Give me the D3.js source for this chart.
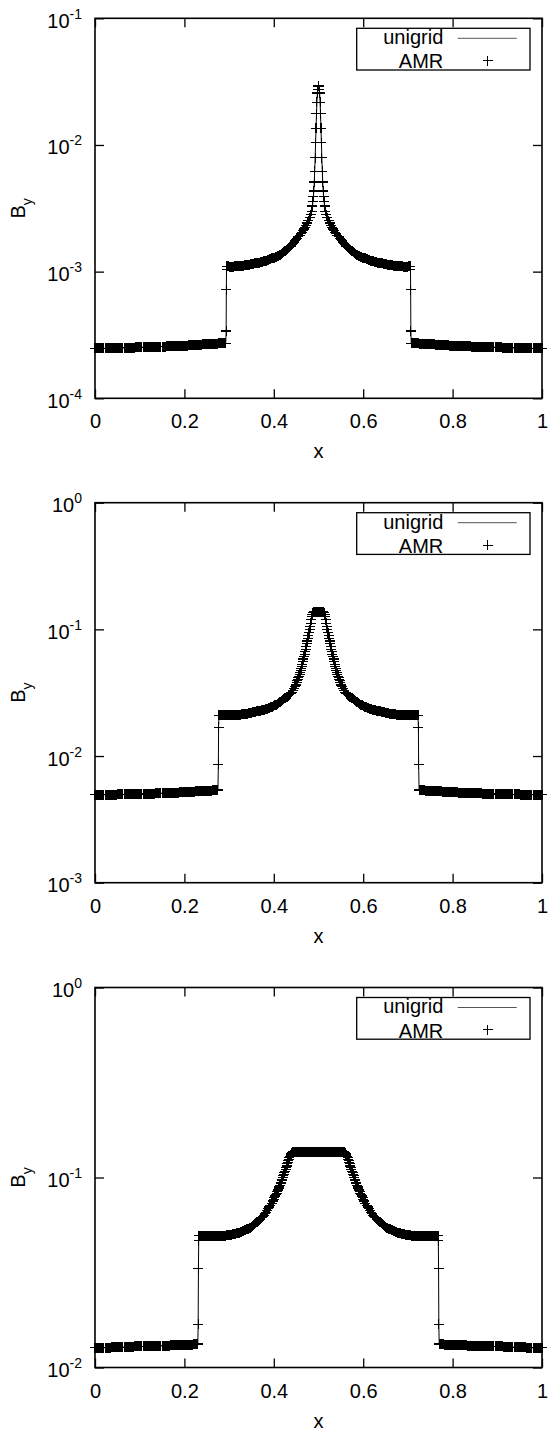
<!DOCTYPE html>
<html>
<head>
<meta charset="utf-8">
<script src="https://cdn.jsdelivr.net/npm/d3@7/dist/d3.min.js"></script>
<style>
  body { margin: 0; background: #fff; }
  text { font-family: "Liberation Sans", Arial, Helvetica, sans-serif; }
</style>
</head>
<body>
<svg id="chart" width="550" height="1434"></svg>
<script>
// ---- B_y; every run is [x0, dx, values] ----

// panel 1: low state left of the left jump (x 0 .. 0.2925)
var p1LowL = [
  2.48e-4, 2.48e-4, 2.48e-4, 2.48e-4, 2.48e-4, 2.48e-4, 2.48e-4, 2.48e-4, 2.48e-4, 2.48e-4,
  2.49e-4, 2.49e-4, 2.49e-4, 2.49e-4, 2.49e-4, 2.49e-4, 2.49e-4, 2.49e-4, 2.49e-4, 2.49e-4,
  2.50e-4, 2.50e-4, 2.50e-4, 2.50e-4, 2.50e-4, 2.50e-4, 2.50e-4, 2.50e-4, 2.51e-4, 2.51e-4,
  2.51e-4, 2.51e-4, 2.51e-4, 2.51e-4, 2.51e-4, 2.51e-4, 2.52e-4, 2.52e-4, 2.52e-4, 2.52e-4,
  2.52e-4, 2.52e-4, 2.53e-4, 2.53e-4, 2.53e-4, 2.53e-4, 2.53e-4, 2.53e-4, 2.54e-4, 2.54e-4,
  2.54e-4, 2.54e-4, 2.54e-4, 2.54e-4, 2.55e-4, 2.55e-4, 2.55e-4, 2.55e-4, 2.55e-4, 2.56e-4,
  2.56e-4, 2.56e-4, 2.56e-4, 2.56e-4, 2.57e-4, 2.57e-4, 2.57e-4, 2.57e-4, 2.58e-4, 2.58e-4,
  2.58e-4, 2.58e-4, 2.59e-4, 2.59e-4, 2.59e-4, 2.59e-4, 2.60e-4, 2.60e-4, 2.60e-4, 2.60e-4,
  2.61e-4, 2.61e-4, 2.61e-4, 2.61e-4, 2.62e-4, 2.62e-4, 2.62e-4, 2.63e-4, 2.63e-4, 2.63e-4,
  2.64e-4, 2.64e-4, 2.64e-4, 2.65e-4, 2.65e-4, 2.65e-4, 2.66e-4, 2.66e-4, 2.66e-4, 2.67e-4,
  2.67e-4, 2.67e-4, 2.68e-4, 2.68e-4, 2.68e-4, 2.69e-4, 2.69e-4, 2.69e-4, 2.70e-4, 2.70e-4,
  2.70e-4, 2.71e-4, 2.71e-4, 2.71e-4, 2.72e-4, 2.72e-4, 2.73e-4, 2.73e-4
];
var p1JumpL = [3.4e-4, 7.2e-4, 1.04e-3];
// panel 1: plateau + rising flank (x 0.295 .. 0.485)
var p1UpL = [
  1.10e-3, 1.10e-3, 1.09e-3, 1.09e-3, 1.09e-3, 1.09e-3, 1.09e-3, 1.10e-3, 1.10e-3, 1.10e-3,
  1.10e-3, 1.10e-3, 1.11e-3, 1.11e-3, 1.11e-3, 1.11e-3, 1.12e-3, 1.12e-3, 1.12e-3, 1.13e-3,
  1.13e-3, 1.14e-3, 1.14e-3, 1.15e-3, 1.15e-3, 1.16e-3, 1.16e-3, 1.17e-3, 1.18e-3, 1.18e-3,
  1.19e-3, 1.19e-3, 1.20e-3, 1.21e-3, 1.21e-3, 1.22e-3, 1.23e-3, 1.24e-3, 1.25e-3, 1.26e-3,
  1.27e-3, 1.27e-3, 1.28e-3, 1.29e-3, 1.31e-3, 1.32e-3, 1.33e-3, 1.35e-3, 1.36e-3, 1.38e-3,
  1.40e-3, 1.42e-3, 1.45e-3, 1.47e-3, 1.50e-3, 1.53e-3, 1.56e-3, 1.59e-3, 1.63e-3, 1.67e-3,
  1.71e-3, 1.75e-3, 1.80e-3, 1.84e-3, 1.89e-3, 1.94e-3, 1.99e-3, 2.05e-3, 2.11e-3, 2.17e-3,
  2.24e-3, 2.33e-3, 2.42e-3, 2.53e-3, 2.66e-3, 2.82e-3, 3.00e-3
];
// panel 1: refined spike around x = 0.5 (x 0.4865 .. 0.5135)
var p1Peak = [
  3.30e-3, 3.55e-3, 3.90e-3, 4.33e-3, 5.10e-3, 6.20e-3, 7.90e-3, 1.04e-2, 1.36e-2, 1.76e-2,
  2.18e-2, 2.57e-2, 2.72e-2, 2.92e-2, 2.92e-2, 2.72e-2, 2.57e-2, 2.18e-2, 1.76e-2, 1.36e-2,
  1.04e-2, 7.90e-3, 6.20e-3, 5.10e-3, 4.33e-3, 3.90e-3, 3.55e-3, 3.30e-3
];
// panel 1: falling flank + plateau (x 0.515 .. 0.705)
var p1UpR = [
  3.00e-3, 2.82e-3, 2.66e-3, 2.53e-3, 2.42e-3, 2.33e-3, 2.24e-3, 2.17e-3, 2.11e-3, 2.05e-3,
  1.99e-3, 1.94e-3, 1.89e-3, 1.84e-3, 1.80e-3, 1.75e-3, 1.71e-3, 1.67e-3, 1.63e-3, 1.59e-3,
  1.56e-3, 1.53e-3, 1.50e-3, 1.47e-3, 1.45e-3, 1.42e-3, 1.40e-3, 1.38e-3, 1.36e-3, 1.35e-3,
  1.33e-3, 1.32e-3, 1.31e-3, 1.29e-3, 1.28e-3, 1.27e-3, 1.27e-3, 1.26e-3, 1.25e-3, 1.24e-3,
  1.23e-3, 1.22e-3, 1.21e-3, 1.21e-3, 1.20e-3, 1.19e-3, 1.19e-3, 1.18e-3, 1.18e-3, 1.17e-3,
  1.16e-3, 1.16e-3, 1.15e-3, 1.15e-3, 1.14e-3, 1.14e-3, 1.13e-3, 1.13e-3, 1.12e-3, 1.12e-3,
  1.12e-3, 1.11e-3, 1.11e-3, 1.11e-3, 1.11e-3, 1.10e-3, 1.10e-3, 1.10e-3, 1.10e-3, 1.10e-3,
  1.09e-3, 1.09e-3, 1.09e-3, 1.09e-3, 1.09e-3, 1.10e-3, 1.10e-3
];
var p1JumpR = [1.04e-3, 7.2e-4, 3.4e-4];
// panel 1: low state right of the right jump (x 0.7075 .. 1)
var p1LowR = [
  2.73e-4, 2.73e-4, 2.72e-4, 2.72e-4, 2.71e-4, 2.71e-4, 2.71e-4, 2.70e-4, 2.70e-4, 2.70e-4,
  2.69e-4, 2.69e-4, 2.69e-4, 2.68e-4, 2.68e-4, 2.68e-4, 2.67e-4, 2.67e-4, 2.67e-4, 2.66e-4,
  2.66e-4, 2.66e-4, 2.65e-4, 2.65e-4, 2.65e-4, 2.64e-4, 2.64e-4, 2.64e-4, 2.63e-4, 2.63e-4,
  2.63e-4, 2.62e-4, 2.62e-4, 2.62e-4, 2.61e-4, 2.61e-4, 2.61e-4, 2.61e-4, 2.60e-4, 2.60e-4,
  2.60e-4, 2.60e-4, 2.59e-4, 2.59e-4, 2.59e-4, 2.59e-4, 2.58e-4, 2.58e-4, 2.58e-4, 2.58e-4,
  2.57e-4, 2.57e-4, 2.57e-4, 2.57e-4, 2.56e-4, 2.56e-4, 2.56e-4, 2.56e-4, 2.56e-4, 2.55e-4,
  2.55e-4, 2.55e-4, 2.55e-4, 2.55e-4, 2.54e-4, 2.54e-4, 2.54e-4, 2.54e-4, 2.54e-4, 2.54e-4,
  2.53e-4, 2.53e-4, 2.53e-4, 2.53e-4, 2.53e-4, 2.53e-4, 2.52e-4, 2.52e-4, 2.52e-4, 2.52e-4,
  2.52e-4, 2.52e-4, 2.51e-4, 2.51e-4, 2.51e-4, 2.51e-4, 2.51e-4, 2.51e-4, 2.51e-4, 2.51e-4,
  2.50e-4, 2.50e-4, 2.50e-4, 2.50e-4, 2.50e-4, 2.50e-4, 2.50e-4, 2.50e-4, 2.49e-4, 2.49e-4,
  2.49e-4, 2.49e-4, 2.49e-4, 2.49e-4, 2.49e-4, 2.49e-4, 2.49e-4, 2.49e-4, 2.48e-4, 2.48e-4,
  2.48e-4, 2.48e-4, 2.48e-4, 2.48e-4, 2.48e-4, 2.48e-4, 2.48e-4, 2.48e-4
];

// panel 2
var p2LowL = [
  4.95e-3, 4.95e-3, 4.95e-3, 4.95e-3, 4.95e-3, 4.95e-3, 4.95e-3, 4.95e-3, 4.95e-3, 4.95e-3,
  4.96e-3, 4.96e-3, 4.96e-3, 4.96e-3, 4.96e-3, 4.96e-3, 4.96e-3, 4.96e-3, 4.96e-3, 4.96e-3,
  4.98e-3, 4.98e-3, 4.98e-3, 4.98e-3, 4.98e-3, 4.98e-3, 4.98e-3, 4.98e-3, 4.99e-3, 4.99e-3,
  4.99e-3, 4.99e-3, 4.99e-3, 4.99e-3, 4.99e-3, 4.99e-3, 5.01e-3, 5.01e-3, 5.01e-3, 5.01e-3,
  5.01e-3, 5.01e-3, 5.03e-3, 5.03e-3, 5.03e-3, 5.03e-3, 5.03e-3, 5.03e-3, 5.05e-3, 5.05e-3,
  5.05e-3, 5.05e-3, 5.05e-3, 5.05e-3, 5.07e-3, 5.07e-3, 5.07e-3, 5.07e-3, 5.07e-3, 5.09e-3,
  5.09e-3, 5.09e-3, 5.09e-3, 5.09e-3, 5.11e-3, 5.11e-3, 5.11e-3, 5.11e-3, 5.13e-3, 5.13e-3,
  5.13e-3, 5.13e-3, 5.15e-3, 5.15e-3, 5.15e-3, 5.15e-3, 5.17e-3, 5.17e-3, 5.17e-3, 5.17e-3,
  5.19e-3, 5.19e-3, 5.19e-3, 5.19e-3, 5.21e-3, 5.21e-3, 5.21e-3, 5.23e-3, 5.23e-3, 5.23e-3,
  5.25e-3, 5.25e-3, 5.25e-3, 5.27e-3, 5.27e-3, 5.27e-3, 5.29e-3, 5.29e-3, 5.29e-3, 5.31e-3,
  5.31e-3, 5.31e-3, 5.33e-3, 5.33e-3, 5.33e-3, 5.36e-3, 5.36e-3, 5.36e-3, 5.39e-3, 5.39e-3,
  5.39e-3
];
var p2JumpL = [8.6e-3, 1.69e-2];
var p2UpL = [
  2.10e-2, 2.10e-2, 2.10e-2, 2.09e-2, 2.09e-2, 2.09e-2, 2.09e-2, 2.09e-2, 2.09e-2, 2.09e-2,
  2.09e-2, 2.10e-2, 2.10e-2, 2.10e-2, 2.10e-2, 2.11e-2, 2.11e-2, 2.11e-2, 2.12e-2, 2.12e-2,
  2.13e-2, 2.13e-2, 2.14e-2, 2.14e-2, 2.15e-2, 2.16e-2, 2.17e-2, 2.18e-2, 2.19e-2, 2.20e-2,
  2.21e-2, 2.22e-2, 2.23e-2, 2.24e-2, 2.25e-2, 2.26e-2, 2.27e-2, 2.28e-2, 2.29e-2, 2.30e-2,
  2.31e-2, 2.32e-2, 2.34e-2, 2.36e-2, 2.38e-2, 2.40e-2, 2.42e-2, 2.44e-2, 2.46e-2, 2.48e-2,
  2.51e-2, 2.54e-2, 2.58e-2, 2.62e-2, 2.65e-2, 2.69e-2, 2.73e-2, 2.77e-2, 2.82e-2, 2.86e-2,
  2.90e-2, 2.95e-2, 3.00e-2, 3.05e-2, 3.11e-2, 3.18e-2, 3.28e-2, 3.40e-2, 3.54e-2
];
// panel 2: refined hump with its flat top (x 0.44875 .. 0.55125)
var p2Mid = [
  3.61e-2, 3.70e-2, 3.80e-2, 3.92e-2, 4.03e-2, 4.15e-2, 4.28e-2, 4.42e-2, 4.56e-2, 4.70e-2,
  4.87e-2, 5.07e-2, 5.32e-2, 5.60e-2, 5.84e-2, 6.10e-2, 6.37e-2, 6.65e-2, 6.96e-2, 7.30e-2,
  7.70e-2, 8.10e-2, 8.50e-2, 8.90e-2, 9.38e-2, 9.90e-2, 0.105, 0.112, 0.119, 0.126,
  0.131, 0.135, 0.136, 0.137, 0.137, 0.137, 0.137, 0.138, 0.138, 0.138,
  0.138, 0.138,
  0.138, 0.138, 0.138, 0.138, 0.137, 0.137, 0.137, 0.137, 0.136, 0.135,
  0.131, 0.126, 0.119, 0.112, 0.105, 9.90e-2, 9.38e-2, 8.90e-2, 8.50e-2, 8.10e-2,
  7.70e-2, 7.30e-2, 6.96e-2, 6.65e-2, 6.37e-2, 6.10e-2, 5.84e-2, 5.60e-2, 5.32e-2, 5.07e-2,
  4.87e-2, 4.70e-2, 4.56e-2, 4.42e-2, 4.28e-2, 4.15e-2, 4.03e-2, 3.92e-2, 3.80e-2, 3.70e-2,
  3.61e-2
];
var p2UpR = [
  3.54e-2, 3.40e-2, 3.28e-2, 3.18e-2, 3.11e-2, 3.05e-2, 3.00e-2, 2.95e-2, 2.90e-2, 2.86e-2,
  2.82e-2, 2.77e-2, 2.73e-2, 2.69e-2, 2.65e-2, 2.62e-2, 2.58e-2, 2.54e-2, 2.51e-2, 2.48e-2,
  2.46e-2, 2.44e-2, 2.42e-2, 2.40e-2, 2.38e-2, 2.36e-2, 2.34e-2, 2.32e-2, 2.31e-2, 2.30e-2,
  2.29e-2, 2.28e-2, 2.27e-2, 2.26e-2, 2.25e-2, 2.24e-2, 2.23e-2, 2.22e-2, 2.21e-2, 2.20e-2,
  2.19e-2, 2.18e-2, 2.17e-2, 2.16e-2, 2.15e-2, 2.14e-2, 2.14e-2, 2.13e-2, 2.13e-2, 2.12e-2,
  2.12e-2, 2.11e-2, 2.11e-2, 2.11e-2, 2.10e-2, 2.10e-2, 2.10e-2, 2.10e-2, 2.09e-2, 2.09e-2,
  2.09e-2, 2.09e-2, 2.09e-2, 2.09e-2, 2.09e-2, 2.09e-2, 2.10e-2, 2.10e-2, 2.10e-2
];
var p2JumpR = [1.69e-2, 8.6e-3];
var p2LowR = [
  5.39e-3, 5.39e-3, 5.39e-3, 5.36e-3, 5.36e-3, 5.36e-3, 5.33e-3, 5.33e-3, 5.33e-3, 5.31e-3,
  5.31e-3, 5.31e-3, 5.29e-3, 5.29e-3, 5.29e-3, 5.27e-3, 5.27e-3, 5.27e-3, 5.25e-3, 5.25e-3,
  5.25e-3, 5.23e-3, 5.23e-3, 5.23e-3, 5.21e-3, 5.21e-3, 5.21e-3, 5.19e-3, 5.19e-3, 5.19e-3,
  5.19e-3, 5.17e-3, 5.17e-3, 5.17e-3, 5.17e-3, 5.15e-3, 5.15e-3, 5.15e-3, 5.15e-3, 5.13e-3,
  5.13e-3, 5.13e-3, 5.13e-3, 5.11e-3, 5.11e-3, 5.11e-3, 5.11e-3, 5.09e-3, 5.09e-3, 5.09e-3,
  5.09e-3, 5.09e-3, 5.07e-3, 5.07e-3, 5.07e-3, 5.07e-3, 5.07e-3, 5.05e-3, 5.05e-3, 5.05e-3,
  5.05e-3, 5.05e-3, 5.05e-3, 5.03e-3, 5.03e-3, 5.03e-3, 5.03e-3, 5.03e-3, 5.03e-3, 5.01e-3,
  5.01e-3, 5.01e-3, 5.01e-3, 5.01e-3, 5.01e-3, 4.99e-3, 4.99e-3, 4.99e-3, 4.99e-3, 4.99e-3,
  4.99e-3, 4.99e-3, 4.99e-3, 4.98e-3, 4.98e-3, 4.98e-3, 4.98e-3, 4.98e-3, 4.98e-3, 4.98e-3,
  4.98e-3, 4.96e-3, 4.96e-3, 4.96e-3, 4.96e-3, 4.96e-3, 4.96e-3, 4.96e-3, 4.96e-3, 4.96e-3,
  4.96e-3, 4.95e-3, 4.95e-3, 4.95e-3, 4.95e-3, 4.95e-3, 4.95e-3, 4.95e-3, 4.95e-3, 4.95e-3,
  4.95e-3
];

// panel 3
var p3LowL = [
  1.27e-2, 1.27e-2, 1.27e-2, 1.27e-2, 1.27e-2, 1.27e-2, 1.27e-2, 1.27e-2, 1.27e-2, 1.27e-2,
  1.27e-2, 1.27e-2, 1.27e-2, 1.27e-2, 1.27e-2, 1.28e-2, 1.28e-2, 1.28e-2, 1.28e-2, 1.28e-2,
  1.28e-2, 1.28e-2, 1.28e-2, 1.28e-2, 1.28e-2, 1.28e-2, 1.28e-2, 1.28e-2, 1.28e-2, 1.28e-2,
  1.28e-2, 1.28e-2, 1.28e-2, 1.28e-2, 1.28e-2, 1.29e-2, 1.29e-2, 1.29e-2, 1.29e-2, 1.29e-2,
  1.29e-2, 1.29e-2, 1.29e-2, 1.29e-2, 1.29e-2, 1.29e-2, 1.29e-2, 1.29e-2, 1.29e-2, 1.29e-2,
  1.29e-2, 1.29e-2, 1.29e-2, 1.30e-2, 1.30e-2, 1.30e-2, 1.30e-2, 1.30e-2, 1.30e-2, 1.30e-2,
  1.30e-2, 1.30e-2, 1.30e-2, 1.30e-2, 1.30e-2, 1.30e-2, 1.30e-2, 1.30e-2, 1.31e-2, 1.31e-2,
  1.31e-2, 1.31e-2, 1.31e-2, 1.31e-2, 1.31e-2, 1.31e-2, 1.31e-2, 1.31e-2, 1.31e-2, 1.32e-2,
  1.32e-2, 1.32e-2, 1.32e-2, 1.32e-2, 1.32e-2, 1.32e-2, 1.32e-2, 1.32e-2, 1.33e-2, 1.33e-2,
  1.33e-2, 1.33e-2, 1.33e-2
];
var p3JumpL = [1.69e-2, 3.33e-2, 4.65e-2];
var p3UpL = [
  4.95e-2, 4.94e-2, 4.93e-2, 4.93e-2, 4.92e-2, 4.92e-2, 4.91e-2, 4.91e-2, 4.91e-2, 4.90e-2,
  4.90e-2, 4.90e-2, 4.90e-2, 4.90e-2, 4.90e-2, 4.90e-2, 4.90e-2, 4.91e-2, 4.91e-2, 4.91e-2,
  4.92e-2, 4.92e-2, 4.93e-2, 4.94e-2, 4.95e-2, 4.96e-2, 4.97e-2, 4.98e-2, 4.99e-2, 5.00e-2,
  5.02e-2, 5.03e-2, 5.05e-2, 5.07e-2, 5.09e-2, 5.11e-2, 5.13e-2, 5.16e-2, 5.18e-2, 5.21e-2,
  5.24e-2, 5.27e-2, 5.30e-2, 5.33e-2, 5.37e-2, 5.41e-2, 5.45e-2, 5.50e-2, 5.55e-2, 5.60e-2,
  5.66e-2, 5.73e-2, 5.80e-2, 5.87e-2, 5.95e-2, 6.04e-2, 6.13e-2, 6.23e-2, 6.34e-2, 6.45e-2,
  6.57e-2, 6.70e-2, 6.84e-2, 6.99e-2, 7.15e-2, 7.32e-2, 7.50e-2
];
var p3FlankL = [
  7.60e-2, 7.70e-2, 7.81e-2, 7.92e-2, 8.03e-2, 8.15e-2, 8.27e-2, 8.40e-2, 8.53e-2, 8.66e-2,
  8.80e-2, 8.95e-2, 9.10e-2, 9.26e-2, 9.43e-2, 9.61e-2, 9.80e-2, 0.100, 0.102, 0.104,
  0.106, 0.108, 0.110, 0.113, 0.115, 0.118, 0.120, 0.123, 0.125, 0.127,
  0.129, 0.131, 0.133, 0.134, 0.135, 0.136, 0.137
];
var p3Top = [
  0.137, 0.137, 0.137, 0.137, 0.137, 0.137, 0.137, 0.137, 0.137, 0.137,
  0.137, 0.137, 0.137, 0.137, 0.137, 0.137, 0.137, 0.137, 0.137, 0.137,
  0.137, 0.137, 0.137, 0.137, 0.137, 0.137, 0.137, 0.137, 0.137, 0.137,
  0.137, 0.137, 0.137, 0.137, 0.137, 0.137, 0.137, 0.137, 0.137, 0.137,
  0.137, 0.137, 0.137, 0.137, 0.137
];
var p3FlankR = [
  0.137, 0.136, 0.135, 0.134, 0.133, 0.131, 0.129, 0.127, 0.125, 0.123,
  0.120, 0.118, 0.115, 0.113, 0.110, 0.108, 0.106, 0.104, 0.102, 0.100,
  9.80e-2, 9.61e-2, 9.43e-2, 9.26e-2, 9.10e-2, 8.95e-2, 8.80e-2, 8.66e-2, 8.53e-2, 8.40e-2,
  8.27e-2, 8.15e-2, 8.03e-2, 7.92e-2, 7.81e-2, 7.70e-2, 7.60e-2
];
var p3UpR = [
  7.50e-2, 7.32e-2, 7.15e-2, 6.99e-2, 6.84e-2, 6.70e-2, 6.57e-2, 6.45e-2, 6.34e-2, 6.23e-2,
  6.13e-2, 6.04e-2, 5.95e-2, 5.87e-2, 5.80e-2, 5.73e-2, 5.66e-2, 5.60e-2, 5.55e-2, 5.50e-2,
  5.45e-2, 5.41e-2, 5.37e-2, 5.33e-2, 5.30e-2, 5.27e-2, 5.24e-2, 5.21e-2, 5.18e-2, 5.16e-2,
  5.13e-2, 5.11e-2, 5.09e-2, 5.07e-2, 5.05e-2, 5.03e-2, 5.02e-2, 5.00e-2, 4.99e-2, 4.98e-2,
  4.97e-2, 4.96e-2, 4.95e-2, 4.94e-2, 4.93e-2, 4.92e-2, 4.92e-2, 4.91e-2, 4.91e-2, 4.91e-2,
  4.90e-2, 4.90e-2, 4.90e-2, 4.90e-2, 4.90e-2, 4.90e-2, 4.90e-2, 4.90e-2, 4.91e-2, 4.91e-2,
  4.91e-2, 4.92e-2, 4.92e-2, 4.93e-2, 4.93e-2, 4.94e-2, 4.95e-2
];
var p3JumpR = [4.65e-2, 3.33e-2, 1.69e-2];
var p3LowR = [
  1.33e-2, 1.33e-2, 1.33e-2, 1.33e-2, 1.33e-2, 1.32e-2, 1.32e-2, 1.32e-2, 1.32e-2, 1.32e-2,
  1.32e-2, 1.32e-2, 1.32e-2, 1.32e-2, 1.31e-2, 1.31e-2, 1.31e-2, 1.31e-2, 1.31e-2, 1.31e-2,
  1.31e-2, 1.31e-2, 1.31e-2, 1.31e-2, 1.31e-2, 1.30e-2, 1.30e-2, 1.30e-2, 1.30e-2, 1.30e-2,
  1.30e-2, 1.30e-2, 1.30e-2, 1.30e-2, 1.30e-2, 1.30e-2, 1.30e-2, 1.30e-2, 1.30e-2, 1.30e-2,
  1.29e-2, 1.29e-2, 1.29e-2, 1.29e-2, 1.29e-2, 1.29e-2, 1.29e-2, 1.29e-2, 1.29e-2, 1.29e-2,
  1.29e-2, 1.29e-2, 1.29e-2, 1.29e-2, 1.29e-2, 1.29e-2, 1.29e-2, 1.29e-2, 1.28e-2, 1.28e-2,
  1.28e-2, 1.28e-2, 1.28e-2, 1.28e-2, 1.28e-2, 1.28e-2, 1.28e-2, 1.28e-2, 1.28e-2, 1.28e-2,
  1.28e-2, 1.28e-2, 1.28e-2, 1.28e-2, 1.28e-2, 1.28e-2, 1.28e-2, 1.28e-2, 1.27e-2, 1.27e-2,
  1.27e-2, 1.27e-2, 1.27e-2, 1.27e-2, 1.27e-2, 1.27e-2, 1.27e-2, 1.27e-2, 1.27e-2, 1.27e-2,
  1.27e-2, 1.27e-2, 1.27e-2
];

// axes
var xTicks = [0, 0.2, 0.4, 0.6, 0.8, 1];
var xTickLabels = ["0", "0.2", "0.4", "0.6", "0.8", "1"];
var yExp1 = [-4, -3, -2, -1];
var yExp2 = [-3, -2, -1, 0];
var yExp3 = [-2, -1, 0];
var seriesNames = ["unigrid", "AMR"];

var panels = [
  { exps: yExp1, runs: [
      [0, 0.0025, p1LowL], [0.2934, 0.0004, p1JumpL], [0.295, 0.0025, p1UpL],
      [0.4865, 0.001, p1Peak], [0.515, 0.0025, p1UpR], [0.7058, 0.0004, p1JumpR],
      [0.7075, 0.0025, p1LowR]] },
  { exps: yExp2, runs: [
      [0, 0.0025, p2LowL], [0.276, 0.0005, p2JumpL], [0.2775, 0.0025, p2UpL],
      [0.44875, 0.00125, p2Mid], [0.5525, 0.0025, p2UpR], [0.7235, 0.0005, p2JumpR],
      [0.725, 0.0025, p2LowR]] },
  { exps: yExp3, runs: [
      [0, 0.0025, p3LowL], [0.2308, 0.0006, p3JumpL], [0.2325, 0.0025, p3UpL],
      [0.39875, 0.00125, p3FlankL], [0.445, 0.0025, p3Top], [0.55625, 0.00125, p3FlankR],
      [0.6025, 0.0025, p3UpR], [0.768, 0.0006, p3JumpR], [0.77, 0.0025, p3LowR]] }
];

var svg = d3.select("#chart");
svg.append("rect").attr("width", 550).attr("height", 1434).attr("fill", "#fff");

var left = 95, pw = 447, ph = 380;
var tops = [18.3, 502.7, 987.5];
var fontSize = 20;

function expand(runs) {
  var pts = [];
  runs.forEach(function(r) {
    r[2].forEach(function(v, i) { pts.push({ x: r[0] + i * r[1], y: v }); });
  });
  return pts;
}

panels.forEach(function(p, k) {
  var g = svg.append("g").attr("transform", "translate(" + left + "," + tops[k] + ")");

  var x = d3.scaleLinear().domain([0, 1]).range([0, pw]);
  var y = d3.scaleLog()
      .domain([Math.pow(10, p.exps[0]), Math.pow(10, p.exps[p.exps.length - 1])])
      .range([ph, 0]);
  var yTicks = p.exps.map(function(e) { return Math.pow(10, e); });

  // inward ticks on all four sides, like gnuplot's mirrored tics
  g.append("g").attr("transform", "translate(0," + ph + ")")
      .call(d3.axisBottom(x).tickValues(xTicks)
        .tickFormat(function(d, i) { return xTickLabels[i]; })
        .tickSize(-9).tickPadding(16));
  g.append("g")
      .call(d3.axisTop(x).tickValues(xTicks).tickFormat("").tickSize(-9));
  var yl = g.append("g")
      .call(d3.axisLeft(y).tickValues(yTicks).tickFormat("").tickSize(-9).tickPadding(13));
  g.append("g").attr("transform", "translate(" + pw + ",0)")
      .call(d3.axisRight(y).tickValues(yTicks).tickFormat("").tickSize(-9));

  g.selectAll(".domain").remove();
  g.selectAll(".tick line").attr("stroke", "#000").attr("stroke-width", 1.3);
  g.selectAll(".tick text").attr("font-size", fontSize).attr("fill", "#000")
      .attr("font-family", "'Liberation Sans', Arial, sans-serif");

  yl.selectAll(".tick text").each(function(d, i) {
    var t = d3.select(this).attr("dy", 9).text("10");
    t.append("tspan").attr("font-size", 14).attr("dy", -9).text(String(p.exps[i]));
  });

  g.append("rect")
      .attr("width", pw).attr("height", ph)
      .attr("fill", "none").attr("stroke", "#000").attr("stroke-width", 1.6);

  var pts = expand(p.runs);

  // unigrid line
  g.append("path").datum(pts)
      .attr("fill", "none").attr("stroke", "#000").attr("stroke-width", 1)
      .attr("d", d3.line().x(function(d) { return x(d.x); }).y(function(d) { return y(d.y); }));

  // AMR points drawn as plus markers
  g.selectAll(".amr").data(pts).enter().append("path")
      .attr("class", "amr")
      .attr("d", "M-5,0H5M0,-5V5")
      .attr("transform", function(d) { return "translate(" + x(d.x) + "," + y(d.y) + ")"; })
      .attr("fill", "none").attr("stroke", "#000").attr("stroke-width", 1.1)
      .attr("shape-rendering", "crispEdges");

  // axis titles
  g.append("text")
      .attr("x", pw / 2).attr("y", ph + 60)
      .attr("text-anchor", "middle").attr("font-size", fontSize)
      .text("x");
  var yt = g.append("text")
      .attr("transform", "translate(" + (25 - left) + "," + (ph / 2) + ") rotate(-90)")
      .attr("text-anchor", "middle").attr("font-size", fontSize)
      .text("B");
  yt.append("tspan").attr("font-size", 14).attr("dy", 7).text("y");

  // legend
  var lg = g.append("g").attr("transform", "translate(261.7,10)");
  lg.append("rect").attr("width", 173.3).attr("height", 41.7)
      .attr("fill", "#fff").attr("stroke", "#000").attr("stroke-width", 1.3);
  lg.append("text").attr("x", 86.6).attr("y", 15.8)
      .attr("text-anchor", "end").attr("font-size", fontSize).text(seriesNames[0]);
  lg.append("line").attr("x1", 101).attr("x2", 160).attr("y1", 10).attr("y2", 10)
      .attr("stroke", "#555").attr("stroke-width", 1);
  lg.append("text").attr("x", 86.6).attr("y", 40)
      .attr("text-anchor", "end").attr("font-size", fontSize).text(seriesNames[1]);
  lg.append("path").attr("d", "M-5,0H5M0,-5V5")
      .attr("transform", "translate(131,32.4)")
      .attr("stroke", "#000").attr("stroke-width", 1.1)
      .attr("shape-rendering", "crispEdges");
});
</script>
</body>
</html>
